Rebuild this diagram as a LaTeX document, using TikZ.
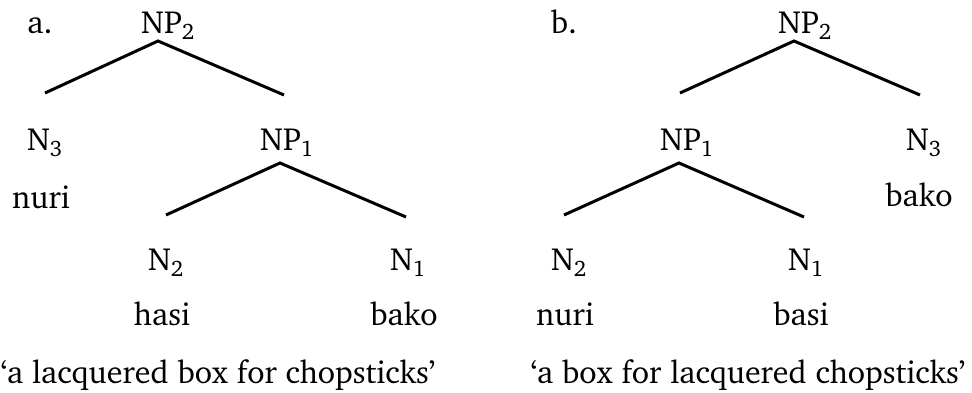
\documentclass[tikz,border=0pt]{standalone}
\usepackage[T1]{fontenc}
\usepackage{charter}
\begin{document}
\begin{tikzpicture}[x=1pt,y=-1pt,
  lbl/.style={anchor=base,inner sep=0pt,font=\fontsize{32}{38}\selectfont},
  branch/.style={line width=3pt}]
\useasboundingbox (0,0) rectangle (972,392);

% ---- tree a ----
\node[lbl] (la) at (40,33) {a.};
\node[lbl] (a-np2) at (168,33) {NP\textsubscript{2}};
\node[lbl] (a-n3) at (45,150) {N\textsubscript{3}};
\node[lbl] (a-np1) at (287,150) {NP\textsubscript{1}};
\node[lbl] (a-nuri) at (41,208) {nuri};
\node[lbl] (a-n2) at (166,270) {N\textsubscript{2}};
\node[lbl] (a-n1) at (408,270) {N\textsubscript{1}};
\node[lbl] (a-hasi) at (162,325) {hasi};
\node[lbl] (a-bako) at (404,325) {bako};
\node[lbl] (a-gloss) at (218,383) {`a lacquered box for chopsticks'};

\coordinate (a-top) at (158,41);
\coordinate (a-l) at (45,93);
\coordinate (a-r) at (284,95);
\coordinate (a-mid) at (280,163);
\coordinate (a-ml) at (166,215);
\coordinate (a-mr) at (406,217);
\draw[branch] (a-l) -- (a-top) -- (a-r);
\draw[branch] (a-ml) -- (a-mid) -- (a-mr);

% ---- tree b ----
\node[lbl] (lb) at (564,33) {b.};
\node[lbl] (b-np2) at (805,33) {NP\textsubscript{2}};
\node[lbl] (b-np1) at (687,150) {NP\textsubscript{1}};
\node[lbl] (b-n3) at (924,150) {N\textsubscript{3}};
\node[lbl] (b-bako) at (919,206) {bako};
\node[lbl] (b-n2) at (569,270) {N\textsubscript{2}};
\node[lbl] (b-n1) at (806,270) {N\textsubscript{1}};
\node[lbl] (b-nuri) at (565,325) {nuri};
\node[lbl] (b-basi) at (801,325) {basi};
\node[lbl] (b-gloss) at (748,383) {`a box for lacquered chopsticks'};

\coordinate (b-top) at (794,41);
\coordinate (b-l) at (680,93);
\coordinate (b-r) at (920,95);
\coordinate (b-mid) at (679,163);
\coordinate (b-ml) at (564,215);
\coordinate (b-mr) at (804,217);
\draw[branch] (b-l) -- (b-top) -- (b-r);
\draw[branch] (b-ml) -- (b-mid) -- (b-mr);
\end{tikzpicture}
\end{document}
